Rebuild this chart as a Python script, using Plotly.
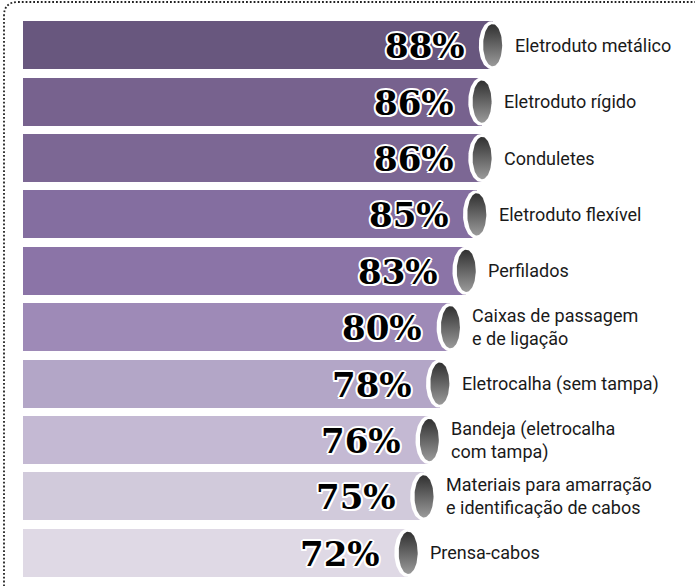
import numpy as np
import plotly.graph_objects as go

# ---------------- data ----------------
categories = [
    "Eletroduto metálico",
    "Eletroduto rígido",
    "Conduletes",
    "Eletroduto flexível",
    "Perfilados",
    "Caixas de passagem<br>e de ligação",
    "Eletrocalha (sem tampa)",
    "Bandeja (eletrocalha<br>com tampa)",
    "Materiais para amarração<br>e identificação de cabos",
    "Prensa-cabos",
]
values = [88, 86, 86, 85, 83, 80, 78, 76, 75, 72]
value_labels = ["88%", "86%", "86%", "85%", "83%", "80%", "78%", "76%", "75%", "72%"]

# ---------------- style ----------------
bar_colors = ["#68577e", "#77628e", "#7c6794", "#846ea0", "#8b74a7",
              "#9e8ab7", "#b3a6c7", "#c4b9d3", "#d1cadb", "#dfd9e5"]
BAR_BASE = -0.95
BAR_W = 0.85
W, H = 695, 586
ML, MR, MT, MB = 23, 0, 17, 5
PX_PER_UNIT = 5.28
X_MAX = BAR_BASE + (W - ML - MR) / PX_PER_UNIT

n = len(values)
pos = [n - 1 - i for i in range(n)]  # first category at top

fig = go.Figure()
fig.add_trace(go.Bar(
    orientation="h", y=pos, x=[v - BAR_BASE for v in values], base=BAR_BASE,
    width=BAR_W, marker=dict(color=bar_colors, line=dict(width=0)),
    hoverinfo="skip", showlegend=False,
))

t = np.linspace(0, 2 * np.pi, 80)
# white rims (tube ends)
for v, p in zip(values, pos):
    a, b = 12.5 / PX_PER_UNIT, BAR_W / 2
    cx = v - 0.25
    fig.add_trace(go.Scatter(
        x=cx + a * np.cos(t), y=p + b * np.sin(t), mode="lines",
        fill="toself", fillcolor="#ffffff", line=dict(width=0),
        hoverinfo="skip", showlegend=False,
    ))
# dark gradient inner ellipses
for v, p in zip(values, pos):
    a, b = 9.5 / PX_PER_UNIT, 0.375
    fig.add_trace(go.Scatter(
        x=v + a * np.cos(t), y=p + b * np.sin(t), mode="lines",
        fill="toself", line=dict(width=0),
        fillgradient=dict(type="vertical", start=p + b, stop=p - b,
                          colorscale=[[0, "#303030"], [1, "#9a9a9a"]]),
        hoverinfo="skip", showlegend=False,
    ))

outline = ("-1.5px -1.5px 0 #fff, 1.5px -1.5px 0 #fff, -1.5px 1.5px 0 #fff, "
           "1.5px 1.5px 0 #fff, 2px 0 0 #fff, -2px 0 0 #fff, 0 2px 0 #fff, 0 -2px 0 #fff")
for v, p, lab, cat in zip(values, pos, value_labels, categories):
    fig.add_annotation(
        x=v, y=p, text=lab, showarrow=False, xanchor="right", yanchor="middle",
        xshift=-26, yshift=-1,
        font=dict(family="DejaVu Serif", size=34, color="#000000",
                  weight="bold", shadow=outline),
    )
    fig.add_annotation(
        x=v, y=p, text=cat, showarrow=False, xanchor="left", yanchor="middle",
        align="left", xshift=20,
        font=dict(family="Roboto", size=18, color="#1a1a1a"),
    )

# dotted frame (left + top with rounded corner)
pw, ph = W - ML - MR, H - MT - MB
def px(xp):
    return (xp - ML) / pw
def py(yp):
    return (H - MB - yp) / ph
path = (f"M {px(4)},{py(590)} L {px(4)},{py(16)} "
        f"Q {px(4)},{py(2)} {px(18)},{py(2)} L {px(700)},{py(2)}")
fig.add_shape(type="path", xref="paper", yref="paper", path=path,
              line=dict(color="#222222", width=1.8, dash="1.8px,2px"))

fig.update_layout(
    width=W, height=H,
    margin=dict(l=ML, r=MR, t=MT, b=MB),
    paper_bgcolor="#ffffff", plot_bgcolor="#ffffff",
    xaxis=dict(range=[BAR_BASE, X_MAX], visible=False, fixedrange=True),
    yaxis=dict(range=[-0.5, n - 0.5], visible=False, fixedrange=True),
    bargap=0, showlegend=False,
)

fig.write_html(
    "out.html",
    config={"displayModeBar": False},
    post_script="document.body.style.margin='0';document.body.style.overflow='hidden';",
)
